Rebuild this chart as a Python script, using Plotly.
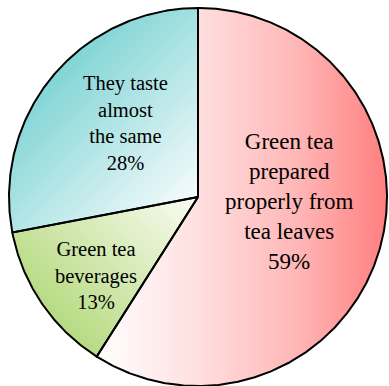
import numpy as np
import plotly.graph_objects as go

# Survey answers: which tastes better?
label_lines = [
    ["Green tea", "prepared", "properly from", "tea leaves"],
    ["Green tea", "beverages"],
    ["They taste", "almost", "the same"],
]
shares = [59, 13, 28]

# gradient end colours per slice (saturated end, pale end)
fill_dark = ["#ff7f7f", "#b5da80", "#80d4d5"]
fill_light = ["#ffffff", "#fbfcf4", "#f6fbfc"]
# gradient direction in screen space (towards the pale end); None = horizontal fill gradient
grad_dir = [None, (1.0, -1.0), (1.0, 1.0)]

# label placement (pixels): anchor x, side of the text block the x refers to, centre y, font size
label_x = [355, 53, 81]
label_side = ["right", "left", "left"]
label_y = [201.5, 275.5, 122.5]
label_size = [23, 20.5, 20.5]

W, H = 389, 386
CX, CY, R = 198.0, 197.0, 189.0
FONT = "Liberation Serif"


def wedge(a0, a1, step=0.5):
    """Polygon of a pie slice, angles in degrees clockwise from 12 o'clock."""
    n = max(int(abs(a1 - a0) / step), 2) + 1
    th = np.radians(np.linspace(a0, a1, n))
    pts = [(CX, CY)] + [(CX + R * np.sin(t), CY - R * np.cos(t)) for t in th]
    return pts


def clip_half(pts, f):
    out = []
    n = len(pts)
    for i in range(n):
        p, q = pts[i], pts[(i + 1) % n]
        fp, fq = f(p), f(q)
        if fp >= 0:
            out.append(p)
        if (fp >= 0) != (fq >= 0):
            t = fp / (fp - fq)
            out.append((p[0] + t * (q[0] - p[0]), p[1] + t * (q[1] - p[1])))
    return out


def hex_rgb(h):
    h = h.lstrip("#")
    return np.array([int(h[i:i + 2], 16) for i in (0, 2, 4)], dtype=float)


def mix(c0, c1, t):
    c = hex_rgb(c0) * (1 - t) + hex_rgb(c1) * t
    return "rgb(%d,%d,%d)" % tuple(np.round(c).astype(int))


fig = go.Figure()

total = float(sum(shares))
bounds = np.concatenate([[0.0], np.cumsum(shares) / total * 360.0])
polys = []

for i, share in enumerate(shares):
    poly = wedge(bounds[i], bounds[i + 1])
    polys.append(poly)
    d = grad_dir[i]
    if d is None:
        xs = [p[0] for p in poly] + [poly[0][0]]
        ys = [p[1] for p in poly] + [poly[0][1]]
        fig.add_trace(go.Scatter(
            x=xs, y=ys, mode="none", fill="toself",
            fillgradient=dict(type="horizontal",
                              colorscale=[[0, fill_light[i]],
                                          [0.35, mix(fill_light[i], fill_dark[i], 0.25)],
                                          [0.7, mix(fill_light[i], fill_dark[i], 0.58)],
                                          [1, fill_dark[i]]]),
            hoverinfo="skip",
        ))
        continue
    d = np.array(d) / np.hypot(*d)
    proj = lambda p, d=d: p[0] * d[0] + p[1] * d[1]
    s_vals = [proj(p) for p in poly]
    smin, smax = min(s_vals), max(s_vals)
    nb = 60
    edges = np.linspace(smin, smax, nb + 1)
    for k in range(nb):
        lo, hi = edges[k], edges[k + 1]
        part = clip_half(poly, lambda p: proj(p) - lo)
        if part:
            part = clip_half(part, lambda p: hi - proj(p))
        if len(part) < 3:
            continue
        col = mix(fill_dark[i], fill_light[i], (k + 0.5) / nb)
        xs = [p[0] for p in part] + [part[0][0]]
        ys = [p[1] for p in part] + [part[0][1]]
        fig.add_trace(go.Scatter(
            x=xs, y=ys, mode="lines", fill="toself", fillcolor=col,
            line=dict(color=col, width=0.8), hoverinfo="skip",
        ))

# slice outlines
for poly in polys:
    xs = [p[0] for p in poly] + [poly[0][0]]
    ys = [p[1] for p in poly] + [poly[0][1]]
    fig.add_trace(go.Scatter(
        x=xs, y=ys, mode="lines", line=dict(color="black", width=2),
        hoverinfo="skip",
    ))

for lines, share, lx, side, ly, fs in zip(label_lines, shares, label_x,
                                          label_side, label_y, label_size):
    fig.add_annotation(
        x=lx / W, y=1 - ly / H, xref="paper", yref="paper",
        xanchor=side, yanchor="middle",
        text="<br>".join(lines + ["%d%%" % share]),
        showarrow=False, align="center",
        font=dict(family=FONT, size=fs, color="black"),
    )

fig.update_layout(
    width=W, height=H,
    margin=dict(l=0, r=0, t=0, b=0),
    paper_bgcolor="white", plot_bgcolor="white",
    showlegend=False,
    font=dict(family=FONT, color="black"),
    xaxis=dict(range=[0, W], visible=False, fixedrange=True),
    yaxis=dict(range=[H, 0], visible=False, fixedrange=True),
)

fig.write_html("out.html")
